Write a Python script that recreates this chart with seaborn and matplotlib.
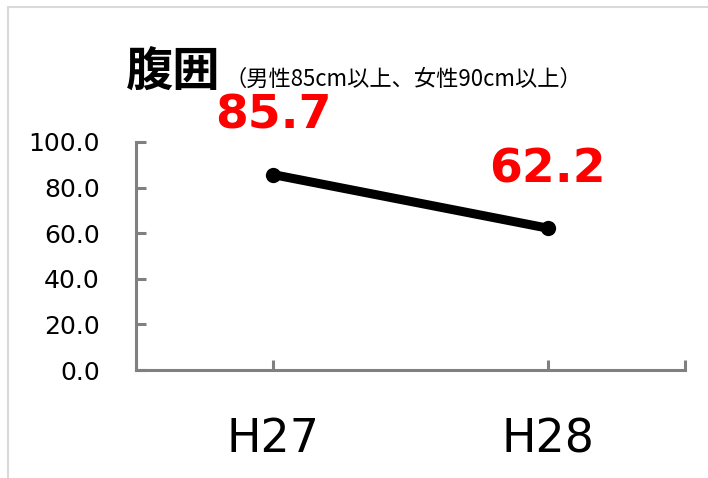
import matplotlib
matplotlib.use("Agg")
import matplotlib.pyplot as plt
import seaborn as sns
from matplotlib.patches import Rectangle

years = ["H27", "H28"]
values = [85.7, 62.2]
y_ticks = [0, 20, 40, 60, 80, 100]
title = "腹囲"
subtitle = "（男性85cm以上、女性90cm以上）"

W, H = 708, 478
DPI = 100

sns.set_style("white")
plt.rcParams["font.family"] = ["DejaVu Sans", "Noto Sans CJK JP"]
plt.rcParams["text.color"] = "black"
plt.rcParams["xtick.labelcolor"] = "black"
plt.rcParams["ytick.labelcolor"] = "black"

fig = plt.figure(figsize=(W / DPI, H / DPI), dpi=DPI)
ax = fig.add_axes([136 / W, 1 - 370 / H, (685 - 136) / W, (370 - 142) / H])

# light grey chart frame
fig.patches.append(Rectangle((7.5 / W, -0.1), 1.2, 1 - 7.5 / H + 0.1,
                             transform=fig.transFigure, fill=False,
                             edgecolor="#d9d9d9", linewidth=1.5))

sns.lineplot(x=years, y=values, ax=ax, color="black", linewidth=6.5,
             marker="o", markersize=11, markeredgewidth=0, sort=False)

for i, v in enumerate(values):
    ax.annotate(f"{v:.1f}", (i, v), xytext=(0, 42), textcoords="offset points",
                ha="center", va="center", color="#ff0000", fontsize=34,
                fontweight="bold")

ax.set_xlim(-0.5, 1.5)
ax.set_ylim(0, 100)
ax.set_yticks(y_ticks)
ax.set_yticklabels([f"{t:.1f}" for t in y_ticks])
ax.set_xticks(range(len(years)))
ax.set_xticklabels(years)
ax.set_xticks([-0.5, 1.5], minor=True)
ax.set_xlabel("")
ax.set_ylabel("")

for side in ["top", "right"]:
    ax.spines[side].set_visible(False)
for side in ["left", "bottom"]:
    ax.spines[side].set_color("#808080")
    ax.spines[side].set_linewidth(2.2)

ax.tick_params(axis="y", direction="in", length=7, width=2.2, color="#808080",
               labelsize=18, pad=26, left=True, labelcolor="black")
ax.tick_params(axis="x", which="both", direction="in", length=7, width=2.2,
               color="#808080", bottom=True)
ax.tick_params(axis="x", which="major", labelsize=33, pad=34,
               labelcolor="black")

fig.text(126 / W, 1 - 87 / H, title, fontsize=34, fontweight="bold",
         family=["Noto Sans CJK JP"], va="baseline", ha="left", color="black")
fig.text(224 / W, 1 - 86 / H, subtitle, fontsize=16,
         family=["Noto Sans CJK JP"], va="baseline", ha="left", color="black")

fig.savefig("out.png", dpi=DPI)
